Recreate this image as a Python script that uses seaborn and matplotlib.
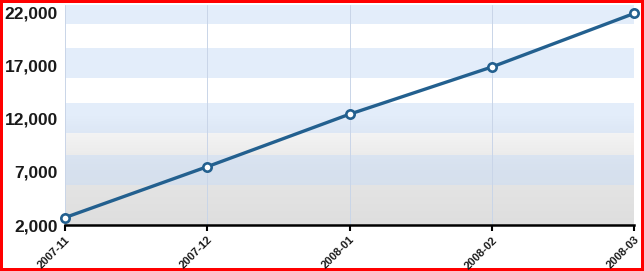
import numpy as np
import pandas as pd
import matplotlib
matplotlib.use("Agg")
import matplotlib.pyplot as plt
import seaborn as sns
from matplotlib.colors import LinearSegmentedColormap

months = ["2007-11", "2007-12", "2008-01", "2008-02", "2008-03"]
values = [2700, 7500, 12450, 16900, 21950]
ytick_values = [2000, 7000, 12000, 17000, 22000]

sns.set_style("white")
plt.rcParams['font.family'] = ['Liberation Sans', 'DejaVu Sans']

df = pd.DataFrame({"month": months, "value": values})

fig = plt.figure(figsize=(6.44, 2.71), dpi=100, edgecolor='#ff0000', linewidth=4)
ax = fig.add_axes([65/644, 1 - 225/271, (634 - 65)/644, (225 - 5)/271])

ymin, ymax = 2000, 22750
# background vertical gradient (gray at bottom to white)
cmap = LinearSegmentedColormap.from_list(
    "bg", [(0.0, "#dedede"), (0.25, "#e6e6e6"), (0.45, "#f6f6f6"), (0.5, "#ffffff"), (1.0, "#ffffff")])
grad = np.linspace(0, 1, 256).reshape(-1, 1)
ax.imshow(grad, cmap=cmap, aspect='auto', origin='lower',
          extent=[0, 4, ymin, ymax], zorder=0)
# decorative bands
bands = [(5774, 8604), (10679, 13509), (15868, 18698), (20962, 22750)]
for lo, hi in bands:
    ax.axhspan(lo, hi, color=(201/255, 221/255, 247/255), alpha=0.5, lw=0, zorder=0.5)

for i in range(len(months)):
    ax.axvline(i, color='#c9d5e8', lw=0.7, zorder=1)

sns.lineplot(data=df, x="month", y="value", ax=ax, color='#23608f', lw=2.4,
             marker='o', markersize=6, markerfacecolor='white',
             markeredgecolor='#23608f', markeredgewidth=1.9, zorder=3, clip_on=False)

ax.set_xlim(0, 4)
ax.set_ylim(ymin, ymax)
ax.set_yticks(ytick_values)
ax.set_yticklabels([f"{v:,}" for v in ytick_values], fontsize=12.5, fontweight='bold', color='#1a1a1a')
ax.set_xticks(range(len(months)))
ax.set_xticklabels(months, rotation=45, ha='right', va='top', rotation_mode='anchor',
                   fontsize=8, fontweight='bold', color='#1a1a1a')
ax.tick_params(axis='x', length=4, width=1.5, color='black', direction='out', pad=3, bottom=True)
ax.tick_params(axis='y', length=0, pad=5)
ax.set_xlabel("")
ax.set_ylabel("")
for s in ['top', 'right', 'left']:
    ax.spines[s].set_visible(False)
ax.spines['bottom'].set_color('black')
ax.spines['bottom'].set_linewidth(1.8)
ax.spines['bottom'].set_zorder(4)

fig.savefig("out.png", dpi=100, edgecolor=fig.get_edgecolor())
